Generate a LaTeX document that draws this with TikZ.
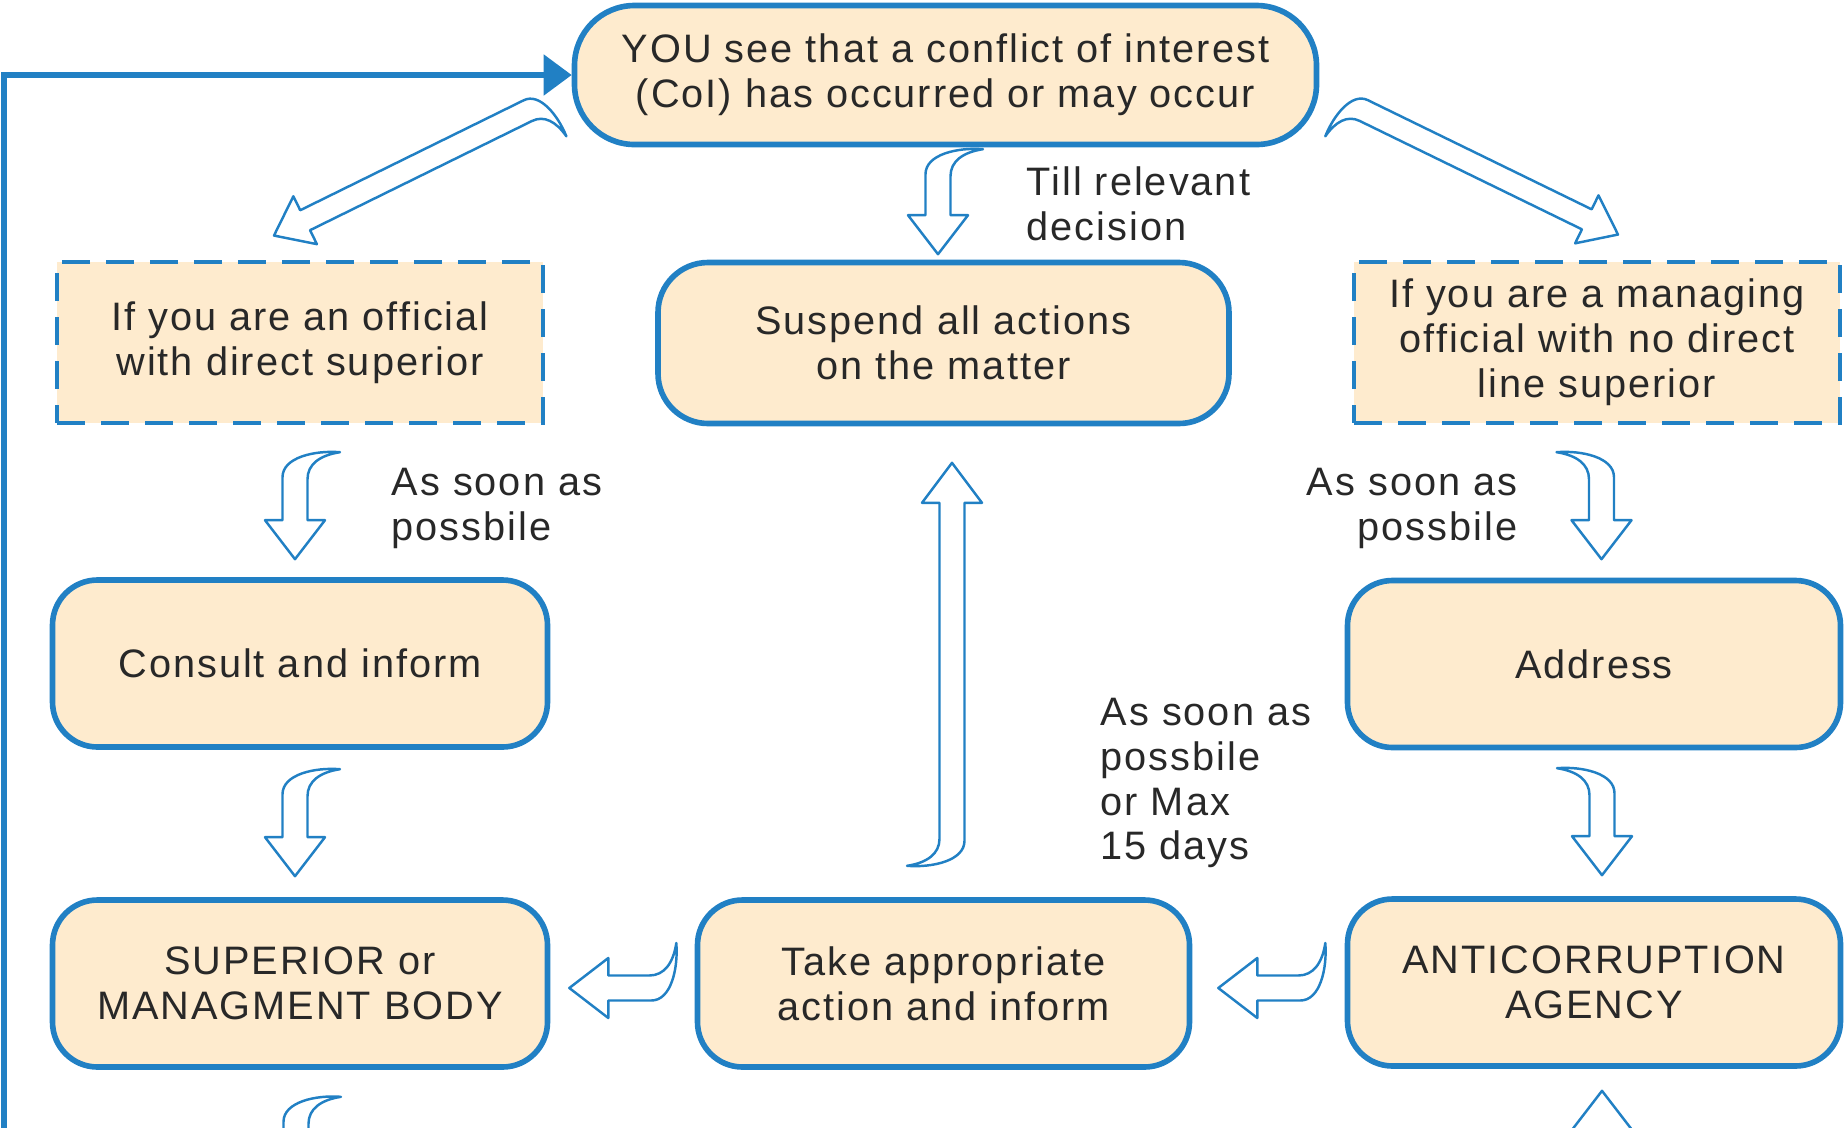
\documentclass[tikz,border=0pt]{standalone}
\usepackage{fontspec}
\setmainfont{Liberation Sans}[LetterSpace=5]
\usetikzlibrary{arrows.meta,calc}

\definecolor{cblue}{RGB}{33,128,196}
\definecolor{cfill}{RGB}{254,235,206}
\definecolor{ctext}{RGB}{40,40,40}

\newcommand{\boxfont}{\fontsize{11.3}{12.8}\selectfont}

\tikzset{
  stepbox/.style={draw=cblue, line width=1.6pt, fill=cfill, rounded corners=4.5mm,
    minimum width=49.5mm, minimum height=16.7mm, align=center, text=ctext,
    font=\boxfont, inner sep=0pt},
  condbox/.style={stepbox, sharp corners, line width=1.4pt,
    dash pattern=on 2.8mm off 1.6mm, minimum width=48.6mm, minimum height=16.1mm},
  note/.style={text=ctext, font=\boxfont, inner sep=0pt},
  hollow/.style={draw=cblue, line width=0.7pt, fill=white, line join=round},
  loopline/.style={draw=cblue, line width=1.5pt, -{Triangle[length=2.8mm,width=4mm]}},
  pics/hookarrow/.style 2 args={code={
    \draw[hollow] (0,0) -- (30,-#2) -- (12.5,-#2) -- (12.5,{-#1+27})
      .. controls (12.5,{-#1+12}) and (25,{-#1+3}) .. (45,-#1)
      .. controls (20,{-#1-2}) and (-12.5,{-#1+5}) .. (-12.5,{-#1+25})
      -- (-12.5,-#2) -- (-30,-#2) -- cycle;
  }}
}

\begin{document}
\begin{tikzpicture}[x=0.1mm, y=-0.1mm]
    \useasboundingbox (0,0) rectangle (1845,1127);
    \clip (0,0) rectangle (1845,1127);

    % Boxes
    \node[stepbox, minimum width=74.2mm, minimum height=13.9mm, rounded corners=6mm] (you) at (945.5,75)
        {YOU see that a conflict of interest\\(CoI) has occurred or may occur};
    \node[condbox] (leftbox) at (300,342.5) {If you are an official\\with direct superior};
    \node[stepbox, minimum width=57.1mm, minimum height=16.1mm, rounded corners=5mm] (suspend) at (943.5,343)
        {Suspend all actions\\on the matter};
    \node[condbox] (rightbox) at (1597,342.5) {If you are a managing\\official with no direct\\line superior};
    \node[stepbox] (consult) at (300,663.5) {Consult and inform};
    \node[stepbox, minimum width=49.3mm] (address) at (1594,664) {Address};
    \node[stepbox] (superior) at (300,983.5) {SUPERIOR or\\MANAGMENT BODY};
    \node[stepbox, minimum width=49.2mm] (take) at (943.5,983.5) {Take appropriate\\action and inform};
    \node[stepbox, minimum width=49.3mm] (anti) at (1594,982.5) {ANTICORRUPTION\\AGENCY};

    % Notes
    \node[note, anchor=north west, align=left] (tillnote) at (1026,166) {Till relevant\\decision};
    \node[note, anchor=north west, align=left] (leftnote) at (391,467) {As soon as\\possbile};
    \node[note, anchor=north east, align=right] (rightnote) at (1518,467) {As soon as\\possbile};
    \node[note, anchor=north west, align=left] (daysnote) at (1100,697) {As soon as\\possbile\\or Max\\15 days};

    % Hollow arrows
    \pic[rotate=-63.8, scale=0.89] at ($(leftbox.north)+(-26,-24)$) {hookarrow={344}{39}};
    \pic at ($(suspend.north)+(-5.5,-5.5)$) {hookarrow={105}{39}};
    \pic[rotate=64, xscale=-1, scale=0.89] at ($(rightbox.north)+(21,-25)$) {hookarrow={344}{39}};
    \pic at ($(consult.north)+(-5,-18)$) {hookarrow={107}{39}};
    \pic[xscale=-1] at ($(address.north)+(7.5,-18.5)$) {hookarrow={107}{39}};
    \pic at ($(superior.north)+(-5,-21)$) {hookarrow={107}{39}};
    \pic[xscale=-1] at ($(anti.north)+(8,-21)$) {hookarrow={107}{39}};
    \pic[rotate=180] at ($(suspend.south)+(8.5,36.5)$) {hookarrow={403}{40}};
    \pic[rotate=-90, xscale=-1] at ($(superior.east)+(19,4.5)$) {hookarrow={107}{39}};
    \pic[rotate=-90, xscale=-1] at ($(take.east)+(26,4.5)$) {hookarrow={107}{39}};
    \pic at ($(superior.south)+(-4,134)$) {hookarrow={107}{39}};
    \pic[rotate=180] at ($(anti.south)+(8,22)$) {hookarrow={200}{39}};

    % Loop back to the top
    \coordinate (loopfoot) at (4,1140);
    \draw[loopline] (loopfoot) |- (you.west);
\end{tikzpicture}
\end{document}
